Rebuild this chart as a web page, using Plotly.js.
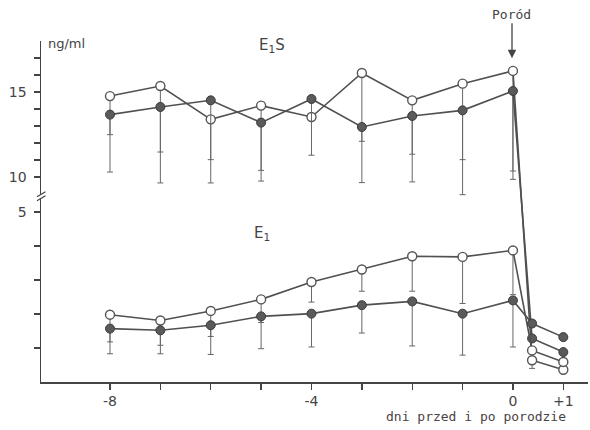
<!DOCTYPE html>
<html><head><meta charset="utf-8">
<script src="https://cdn.plot.ly/plotly-3.0.1.min.js"></script>
<style>html,body{margin:0;padding:0;background:#fff}#chart{width:590px;height:430px}</style>
</head><body><div id="chart"></div>
<script>
// days relative to delivery (last two points are post-partum)
const days = [-8, -7, -6, -5, -4, -3, -2, -1, 0, 0.38, 1];

// E1S (ng/ml)
const e1sOpen      = [14.76, 15.35, 13.39, 14.20, 13.53, 16.12, 14.51, 15.49, 16.24, 0.64, 0.36];
const e1sOpenLow   = [12.49, 11.47, 11.02, 10.39, null, 12.10, 11.34, 11.02, 10.35, 0.40, null];
const e1sFilled    = [13.67, 14.12, 14.51, 13.20, 14.59, 12.94, 13.59, 13.92, 15.06, 1.28, 0.88];
const e1sFilledLow = [10.29, 9.65, 9.65, 9.76, 11.28, 9.67, 9.71, 8.96, 9.86, null, null];

// E1 (ng/ml)
const e1Open      = [1.98, 1.81, 2.09, 2.43, 2.94, 3.31, 3.70, 3.68, 3.87, 0.93, 0.59];
const e1OpenLow   = [1.18, 1.08, 1.34, 1.75, 2.35, 2.67, 2.67, 2.31, 2.57, null, null];
const e1Filled    = [1.57, 1.52, 1.67, 1.93, 2.01, 2.26, 2.37, 2.01, 2.40, 1.72, 1.32];
const e1FilledLow = [0.83, 0.83, 0.81, 0.98, 1.03, 1.44, 1.06, 0.79, 1.03, null, null];

// tick labels
const xTickVals = [-8, -4, 0, 1];
const xTickText = ['-8', '-4', '0', '+1'];
const xMinorVals = [-7, -6, -5, -3, -2, -1];
const yTickValues = [5, 10, 15];
const yTickText   = ['5', '10', '15'];
const yMinorValues = [1, 2, 3, 4, 11, 12, 13, 14, 16, 17];

// broken y axis: lower part 0..5 at full scale, upper part (>=10) at half scale
function disp(v) { if (v === null) return null; return v > 6 ? 6.03 + (v - 10) * 0.5 : v; }

const lineCol = '#505050';
function trace(vals, lows, open) {
  const y = vals.map(disp);
  const minus = vals.map((v, i) => lows[i] === null ? 0 : disp(v) - disp(lows[i]));
  return {
    x: days, y: y, type: 'scatter', mode: 'lines+markers', cliponaxis: false,
    line: {color: lineCol, width: 1.6},
    marker: open ? {size: 9, color: '#ffffff', line: {color: '#555', width: 1.4}}
                 : {size: 9, color: '#5a5a5a', line: {color: '#3a3a3a', width: 1}},
    error_y: {type: 'data', symmetric: false, array: vals.map(() => 0), arrayminus: minus,
              color: '#666', thickness: 1, width: 3},
    showlegend: false, hoverinfo: 'skip'
  };
}

const data = [
  trace(e1sOpen, e1sOpenLow, true),
  trace(e1sFilled, e1sFilledLow, false),
  trace(e1Open, e1OpenLow, true),
  trace(e1Filled, e1FilledLow, false)
];

const L = 41, W = 547, B = 381.7, H = 341;
const px = p => (p - L) / W, py = p => (B - p) / H;
const tf = {family: 'DejaVu Sans, sans-serif', size: 14, color: '#444'};

const axisCommon = {
  ticks: 'outside', ticklen: 6, tickcolor: '#444', tickwidth: 1.3,
  showgrid: false, zeroline: false, showline: true, linecolor: '#444', linewidth: 1.5,
  tickfont: tf
};

const layout = {
  width: 590, height: 430,
  margin: {l: L, r: 2, t: 41, b: 48.3},
  paper_bgcolor: '#fff', plot_bgcolor: '#fff',
  font: tf,
  xaxis: Object.assign({range: [-9.37, 1.49], tickmode: 'array', tickvals: xTickVals, ticktext: xTickText,
          ticklabelstandoff: 0,
          minor: {tickmode: 'array', tickvals: xMinorVals, ticks: 'outside', ticklen: 6, tickcolor: '#444', tickwidth: 1.3, showgrid: false}},
          axisCommon),
  yaxis: Object.assign({range: [0, 10.03], tickmode: 'array', tickvals: yTickValues.map(disp), ticktext: yTickText,
          ticklabelstandoff: 4,
          minor: {tickmode: 'array', tickvals: yMinorValues.map(disp), ticks: 'outside', ticklen: 6, tickcolor: '#444', tickwidth: 1.3, showgrid: false}},
          axisCommon),
  shapes: [
    {type: 'rect', xref: 'paper', yref: 'paper', x0: px(37), x1: px(45), y0: py(198), y1: py(194),
     fillcolor: '#fff', line: {width: 0}, layer: 'above'},
    {type: 'line', xref: 'paper', yref: 'paper', x0: px(37), y0: py(196.5), x1: px(45.5), y1: py(191.5),
     line: {color: '#444', width: 1.3}, layer: 'above'},
    {type: 'line', xref: 'paper', yref: 'paper', x0: px(37), y0: py(200.5), x1: px(45.5), y1: py(195.5),
     line: {color: '#444', width: 1.3}, layer: 'above'}
  ],
  annotations: [
    {xref: 'paper', yref: 'paper', x: px(46), y: py(43), xanchor: 'left', yanchor: 'middle',
     text: 'ng/ml', showarrow: false, font: {family: 'DejaVu Sans, sans-serif', size: 13, color: '#444'}},
    {xref: 'paper', yref: 'paper', x: px(272), y: py(45), xanchor: 'center', yanchor: 'middle',
     text: 'E<sub>1</sub>S', showarrow: false, font: {family: 'DejaVu Sans, sans-serif', size: 15, color: '#444'}},
    {xref: 'paper', yref: 'paper', x: px(262), y: py(233), xanchor: 'center', yanchor: 'middle',
     text: 'E<sub>1</sub>', showarrow: false, font: {family: 'DejaVu Sans, sans-serif', size: 15, color: '#444'}},
    {xref: 'paper', yref: 'paper', x: px(512), y: py(58), text: 'Poród', showarrow: true,
     ax: 0, ay: -44, arrowhead: 2, arrowsize: 1.3, arrowwidth: 1.3, arrowcolor: '#444',
     font: {family: 'DejaVu Sans Mono, monospace', size: 13, color: '#444'}},
    {xref: 'paper', yref: 'paper', x: px(476), y: py(416), xanchor: 'center', yanchor: 'middle',
     text: 'dni przed i po porodzie', showarrow: false,
     font: {family: 'DejaVu Sans Mono, monospace', size: 13, color: '#4a4343'}}
  ]
};

Plotly.newPlot('chart', data, layout, {displayModeBar: false, staticPlot: true});
</script>
</body></html>
